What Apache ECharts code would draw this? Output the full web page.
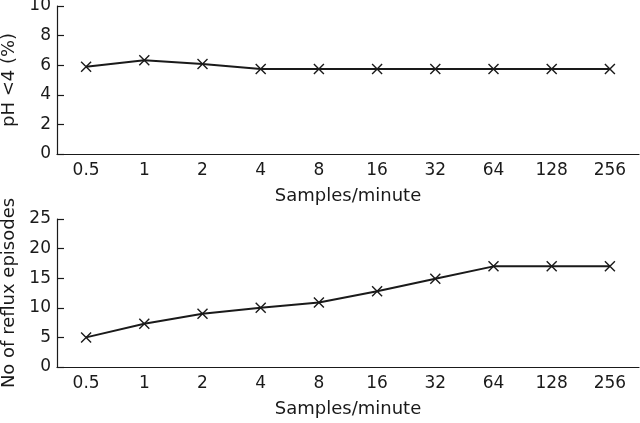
<!DOCTYPE html>
<html>
<head>
<meta charset="utf-8">
<script src="https://cdn.jsdelivr.net/npm/echarts@6/dist/echarts.min.js"></script>
<style>html,body{margin:0;padding:0;background:#fff;}#c{width:640px;height:423px;}</style>
</head>
<body>
<div id="c"></div>
<script>
const categories = ['0.5', '1', '2', '4', '8', '16', '32', '64', '128', '256'];
const phBelow4 = [5.9, 6.33, 6.08, 5.75, 5.75, 5.75, 5.75, 5.75, 5.75, 5.75];
const refluxEpisodes = [5, 7.3, 9, 10, 10.9, 12.8, 14.9, 17, 17, 17];
const xTitle = 'Samples/minute';
const yTitleTop = 'pH <4 (%)';
const yTitleBottom = 'No of reflux episodes';

const FONT = 'DejaVu Sans';
const INK = '#1a1a1a';
const crossSymbol = 'path://M0,0L10,10M10,0L0,10';

function xAxis(gridIndex) {
  return {
    type: 'category', gridIndex, data: categories, boundaryGap: true,
    name: xTitle, nameLocation: 'middle', nameGap: 33,
    nameTextStyle: { fontFamily: FONT, fontSize: 18, color: INK },
    axisLine: { lineStyle: { color: INK, width: 1.2 } },
    axisTick: { inside: true, length: 9, lineStyle: { color: INK, width: 1.2 } },
    axisLabel: { fontFamily: FONT, fontSize: 17, color: INK, margin: 8 },
    splitLine: { show: false }
  };
}
function yAxis(gridIndex, max, interval, name, gap) {
  return {
    type: 'value', gridIndex, min: 0, max, interval,
    name, nameLocation: 'middle', nameGap: gap,
    nameTextStyle: { fontFamily: FONT, fontSize: 18, color: INK },
    axisLine: { show: true, lineStyle: { color: INK, width: 1.2 } },
    axisTick: { show: true, inside: true, length: 7, lineStyle: { color: INK, width: 1.2 } },
    axisLabel: { fontFamily: FONT, fontSize: 17, color: INK, margin: 6 },
    splitLine: { show: false }
  };
}
function series(idx, data) {
  return {
    type: 'line', xAxisIndex: idx, yAxisIndex: idx, data,
    symbol: crossSymbol, symbolSize: 10, showAllSymbol: true,
    lineStyle: { color: INK, width: 2 },
    itemStyle: { color: 'rgba(0,0,0,0)', borderColor: INK, borderWidth: 1.4 },
    animation: false
  };
}

const chart = echarts.init(document.getElementById('c'), null, { renderer: 'canvas' });
chart.setOption({
  backgroundColor: '#fff',
  animation: false,
  grid: [
    { left: 57, right: 1, top: 6, height: 148, outerBoundsMode: 'none', containLabel: false },
    { left: 57, right: 1, top: 219, height: 148, outerBoundsMode: 'none', containLabel: false }
  ],
  xAxis: [xAxis(0), xAxis(1)],
  yAxis: [yAxis(0, 10, 2, yTitleTop, 34), yAxis(1, 25, 5, yTitleBottom, 37)],
  series: [series(0, phBelow4), series(1, refluxEpisodes)]
});
</script>
</body>
</html>
